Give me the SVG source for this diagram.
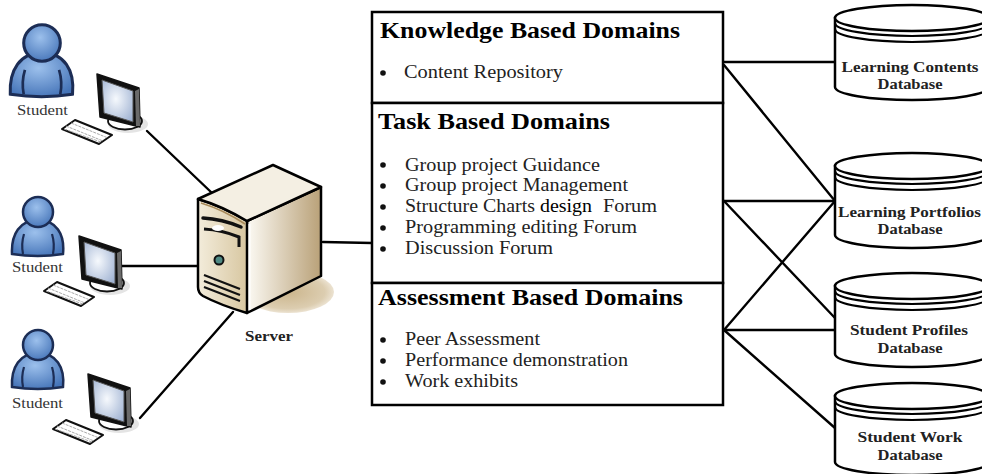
<svg xmlns="http://www.w3.org/2000/svg" width="982" height="474" viewBox="0 0 982 474">
  <style>
    .ln{stroke:#000;stroke-width:2.4;fill:none;stroke-linecap:round}
    .box{fill:#fff;stroke:#000;stroke-width:2.5}
    .ttl{font-family:"Liberation Serif","Times New Roman",serif;font-weight:bold;font-size:23px;fill:#000}
    .itm{font-family:"Liberation Serif","Times New Roman",serif;font-size:19px;fill:#222}
    .blk{fill:#000}
    .bul{fill:#111}
    .lbl{font-family:"Liberation Serif","Times New Roman",serif;font-size:14px;fill:#333}
    .srv{font-family:"Liberation Serif","Times New Roman",serif;font-weight:bold;font-size:14px;fill:#222}
    .db{fill:#fff;stroke:#000;stroke-width:2.5}
    .ring{fill:none;stroke:#000;stroke-width:2.2}
    .dbt{font-family:"Liberation Serif","Times New Roman",serif;font-weight:bold;font-size:15.5px;fill:#222;text-anchor:middle}
  </style>
  <defs>
    <radialGradient id="personGrad" cx="0.45" cy="0.35" r="0.7">
      <stop offset="0" stop-color="#9cc0ec"/>
      <stop offset="1" stop-color="#4574b8"/>
    </radialGradient>
    <radialGradient id="screenGrad" cx="0.45" cy="0.45" r="0.7">
      <stop offset="0" stop-color="#f6f9fd"/>
      <stop offset="1" stop-color="#9fb2d2"/>
    </radialGradient>
    <linearGradient id="srvL" x1="198" y1="0" x2="247" y2="0" gradientUnits="userSpaceOnUse">
      <stop offset="0" stop-color="#f3ecdb"/>
      <stop offset="1" stop-color="#d8c7a1"/>
    </linearGradient>
    <linearGradient id="srvR" x1="247" y1="0" x2="321" y2="0" gradientUnits="userSpaceOnUse">
      <stop offset="0" stop-color="#fcfaf4"/>
      <stop offset="1" stop-color="#b9a178"/>
    </linearGradient>
    <radialGradient id="shadowGrad" cx="0.5" cy="0.5" r="0.5">
      <stop offset="0" stop-color="#cbb58c"/>
      <stop offset="0.8" stop-color="#dccdb0"/>
      <stop offset="1" stop-color="#ece3d2"/>
    </radialGradient>

    <!-- person icon, centred on the head -->
    <g id="person">
      <path d="M-26,42 C-27,22 -18,8 0,8 C18,8 27,22 25,42 Q0,46 -26,42 Z" fill="url(#personGrad)" stroke="#1c2d55" stroke-width="2.5"/>
      <path d="M-14,22 Q-17,32 -15,42 M14,22 Q17,32 15,42" fill="none" stroke="#1c2d55" stroke-width="2.2"/>
      <circle cx="0" cy="0" r="15" fill="url(#personGrad)" stroke="#1c2d55" stroke-width="2.5"/>
    </g>

    <!-- monitor, stand and keyboard -->
    <g id="workstation">
      <ellipse cx="110" cy="286" rx="20" ry="9" fill="#e4e4e4"/>
      <ellipse cx="107" cy="283" rx="17" ry="8.5" fill="#fff" stroke="#111" stroke-width="1.8"/>
      <path d="M79,236 L121,250 L122,289 L82,279 Z" fill="#111" stroke="#111" stroke-width="1.5" stroke-linejoin="round"/>
      <path d="M117,253 L121,251 L122,288 L118,288 Z" fill="#6a6a6a"/>
      <path d="M84,242 L115,253 L115,284 L86,275 Z" fill="url(#screenGrad)" stroke="#555" stroke-width="1"/>
      <path d="M44,291 L57,282 L94,297 L81,306 Z" fill="#fff" stroke="#111" stroke-width="2" stroke-linejoin="round"/>
      <path d="M48,288 L85,303 M53,285 L90,300 M46,291 L83,304" fill="none" stroke="#aaa" stroke-width="1" stroke-dasharray="3 1"/>
    </g>
  </defs>

  <!-- connectors -->
  <g id="connectors">
    <line class="ln" x1="147" y1="131" x2="212" y2="193"/>
    <line class="ln" x1="122" y1="266" x2="198" y2="266"/>
    <line class="ln" x1="140" y1="418" x2="233" y2="312"/>
    <line class="ln" x1="323" y1="242" x2="372" y2="243"/>
    <line class="ln" x1="724" y1="62" x2="835" y2="62"/>
    <line class="ln" x1="724" y1="65" x2="835" y2="201"/>
    <line class="ln" x1="724" y1="201" x2="835" y2="201"/>
    <line class="ln" x1="724" y1="201" x2="835" y2="318"/>
    <line class="ln" x1="724" y1="330" x2="835" y2="201"/>
    <line class="ln" x1="724" y1="330" x2="835" y2="330"/>
    <line class="ln" x1="724" y1="330" x2="835" y2="428"/>
  </g>

  <!-- students -->
  <g id="student1">
    <use href="#person" transform="translate(42,43) scale(1.22)"/>
    <text class="lbl" x="17" y="115" textLength="51" lengthAdjust="spacingAndGlyphs">Student</text>
    <use href="#workstation" transform="translate(18,-162)"/>
  </g>
  <g id="student2">
    <use href="#person" transform="translate(38,212)"/>
    <text class="lbl" x="12" y="272" textLength="51" lengthAdjust="spacingAndGlyphs">Student</text>
    <use href="#workstation"/>
  </g>
  <g id="student3">
    <use href="#person" transform="translate(38,345)"/>
    <text class="lbl" x="12" y="408" textLength="51" lengthAdjust="spacingAndGlyphs">Student</text>
    <use href="#workstation" transform="translate(9,138)"/>
  </g>

  <!-- server tower -->
  <g id="server">
    <ellipse cx="288" cy="292" rx="46" ry="21" fill="url(#shadowGrad)"/>
    <path d="M247,221 L321,187 L321,276 L247,313 Z" fill="url(#srvR)" stroke="#000" stroke-width="2.5" stroke-linejoin="round"/>
    <path d="M198,199 Q222,206 247,221 L247,313 Q220,305 203,296 Q198,293 198,287 Z" fill="url(#srvL)" stroke="#000" stroke-width="2.5" stroke-linejoin="round"/>
    <path d="M198,199 L273,165 L321,187 L247,221 Q222,206 198,199 Z" fill="#f4efe3" stroke="#000" stroke-width="2.5" stroke-linejoin="round"/>
    <path d="M201,203 Q224,210 245,224" fill="none" stroke="#a88a5a" stroke-width="1.6"/>
    <path d="M249.5,224 L249.5,310" stroke="#fff" stroke-width="2"/>
    <path d="M203,218 Q222,219 241,227" fill="none" stroke="#111" stroke-width="3.5" stroke-linecap="round"/>
    <path d="M204,229 Q222,230 239,237 L239,247" fill="none" stroke="#111" stroke-width="3"/>
    <ellipse cx="218" cy="228" rx="6" ry="3" fill="#fff"/>
    <circle cx="219" cy="260" r="4.5" fill="#4f8a84" stroke="#111" stroke-width="2"/>
    <path d="M204,275 L240,289 M204,281 L240,295 M204,287 L240,301" fill="none" stroke="#111" stroke-width="2.2"/>
    <text class="srv" x="245" y="341" textLength="48" lengthAdjust="spacingAndGlyphs">Server</text>
  </g>

  <!-- domain panel -->
  <g id="knowledge-domains">
    <rect class="box" x="372" y="12" width="351" height="91"/>
    <text class="ttl" x="380" y="38" textLength="300" lengthAdjust="spacingAndGlyphs">Knowledge Based Domains</text>
    <circle class="bul" cx="383" cy="73" r="2.8"/>
    <text class="itm" x="404" y="78" textLength="159" lengthAdjust="spacingAndGlyphs">Content Repository</text>
  </g>
  <g id="task-domains">
    <rect class="box" x="372" y="103" width="351" height="180"/>
    <text class="ttl" x="378" y="129" textLength="232" lengthAdjust="spacingAndGlyphs">Task Based Domains</text>
    <circle class="bul" cx="383" cy="165" r="2.8"/>
    <text class="itm" x="405" y="171" textLength="195" lengthAdjust="spacingAndGlyphs">Group project Guidance</text>
    <circle class="bul" cx="383" cy="186" r="2.8"/>
    <text class="itm" x="405" y="191" textLength="223" lengthAdjust="spacingAndGlyphs">Group project Management</text>
    <circle class="bul" cx="383" cy="207" r="2.8"/>
    <text class="itm" x="405" y="212" textLength="130" lengthAdjust="spacingAndGlyphs">Structure Charts</text>
    <text class="itm blk" x="540" y="212" textLength="52" lengthAdjust="spacingAndGlyphs">design</text>
    <text class="itm" x="603" y="212" textLength="54" lengthAdjust="spacingAndGlyphs">Forum</text>
    <circle class="bul" cx="383" cy="228" r="2.8"/>
    <text class="itm" x="405" y="233" textLength="232" lengthAdjust="spacingAndGlyphs">Programming editing Forum</text>
    <circle class="bul" cx="383" cy="249" r="2.8"/>
    <text class="itm" x="405" y="254" textLength="148" lengthAdjust="spacingAndGlyphs">Discussion Forum</text>
  </g>
  <g id="assessment-domains">
    <rect class="box" x="372" y="283" width="351" height="122"/>
    <text class="ttl" x="378" y="305" textLength="305" lengthAdjust="spacingAndGlyphs">Assessment Based Domains</text>
    <circle class="bul" cx="383" cy="340" r="2.8"/>
    <text class="itm" x="405" y="345" textLength="135" lengthAdjust="spacingAndGlyphs">Peer Assessment</text>
    <circle class="bul" cx="383" cy="361" r="2.8"/>
    <text class="itm" x="405" y="366" textLength="223" lengthAdjust="spacingAndGlyphs">Performance demonstration</text>
    <circle class="bul" cx="383" cy="382" r="2.8"/>
    <text class="itm" x="405" y="387" textLength="113" lengthAdjust="spacingAndGlyphs">Work exhibits</text>
  </g>

  <!-- databases -->
  <g id="db-learning-contents">
    <path class="db" d="M835,18 L835,87 A77,13 0 0 0 989,87 L989,18 Z"/>
    <ellipse class="db" cx="912" cy="18" rx="77" ry="13"/>
    <path class="ring" d="M835,23 A77,13 0 0 0 989,23 M835,29 A77,13 0 0 0 989,29"/>
    <text class="dbt" x="910" y="72" textLength="137" lengthAdjust="spacingAndGlyphs">Learning Contents</text>
    <text class="dbt" x="910" y="89" textLength="65" lengthAdjust="spacingAndGlyphs">Database</text>
  </g>
  <g id="db-learning-portfolios">
    <path class="db" d="M835,166 L835,235 A77,13 0 0 0 989,235 L989,166 Z"/>
    <ellipse class="db" cx="912" cy="166" rx="77" ry="13"/>
    <path class="ring" d="M835,171 A77,13 0 0 0 989,171 M835,177 A77,13 0 0 0 989,177"/>
    <text class="dbt" x="909.5" y="217" textLength="143" lengthAdjust="spacingAndGlyphs">Learning Portfolios</text>
    <text class="dbt" x="910" y="234" textLength="65" lengthAdjust="spacingAndGlyphs">Database</text>
  </g>
  <g id="db-student-profiles">
    <path class="db" d="M835,286 L835,354 A77,13 0 0 0 989,354 L989,286 Z"/>
    <ellipse class="db" cx="912" cy="286" rx="77" ry="13"/>
    <path class="ring" d="M835,291 A77,13 0 0 0 989,291 M835,297 A77,13 0 0 0 989,297"/>
    <text class="dbt" x="909" y="335" textLength="118" lengthAdjust="spacingAndGlyphs">Student Profiles</text>
    <text class="dbt" x="910" y="353" textLength="65" lengthAdjust="spacingAndGlyphs">Database</text>
  </g>
  <g id="db-student-work">
    <path class="db" d="M835,396 L835,462 A77,13 0 0 0 989,462 L989,396 Z"/>
    <ellipse class="db" cx="912" cy="396" rx="77" ry="13"/>
    <path class="ring" d="M835,401 A77,13 0 0 0 989,401 M835,407 A77,13 0 0 0 989,407"/>
    <text class="dbt" x="910" y="442" textLength="105" lengthAdjust="spacingAndGlyphs">Student Work</text>
    <text class="dbt" x="910" y="460" textLength="65" lengthAdjust="spacingAndGlyphs">Database</text>
  </g>
</svg>
